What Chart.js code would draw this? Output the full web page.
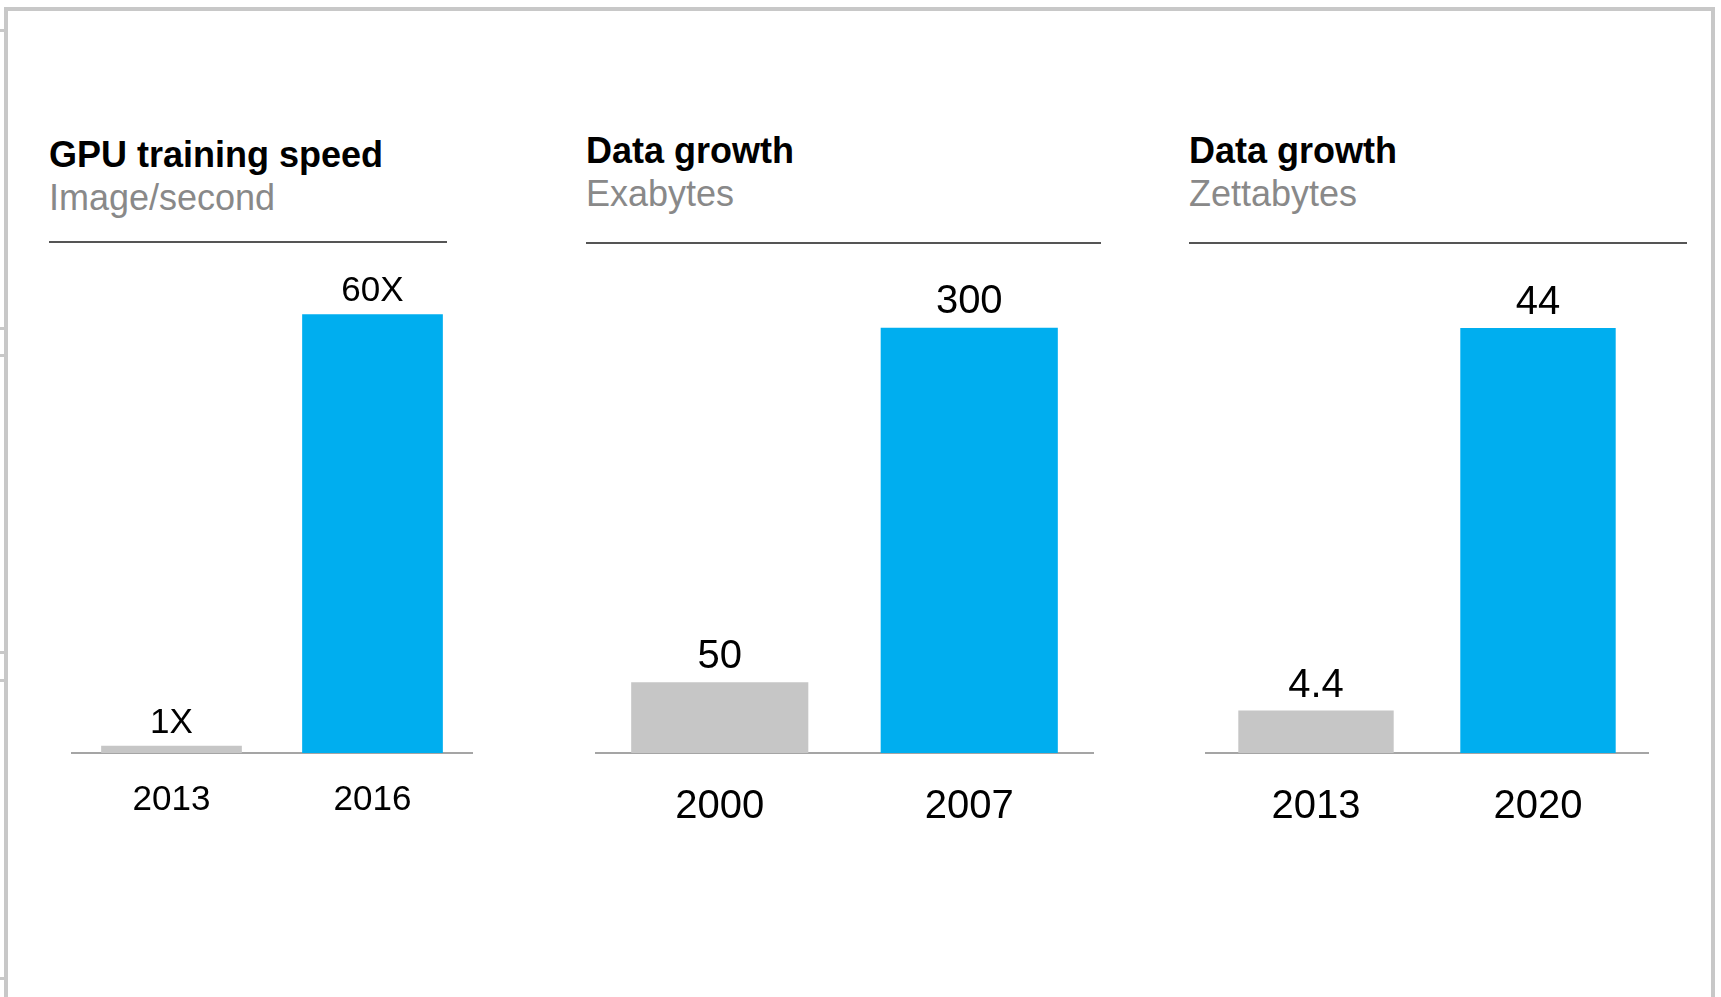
<!DOCTYPE html>
<html>
<head>
<meta charset="utf-8">
<script src="https://cdn.jsdelivr.net/npm/chart.js@4.4.1/dist/chart.umd.min.js"></script>
<style>
  html, body { margin: 0; padding: 0; background: #fff; }
  body { width: 1721px; height: 997px; position: relative; overflow: hidden;
         font-family: "Liberation Sans", Arial, Helvetica, sans-serif; }
  .frame { position: absolute; left: 4px; top: 7px; width: 1703px; height: 1100px;
           border: 4px solid #c8c8c8; border-bottom: none; box-sizing: content-box; }
  .stub { position: absolute; left: 0; width: 5px; height: 3px; background: #c8c8c8; }
  .title { position: absolute; font-size: 36px; line-height: 36px; font-weight: bold; color: #000; white-space: nowrap; }
  .sub { position: absolute; font-size: 36px; line-height: 36px; color: #898989; white-space: nowrap; }
  .rule { position: absolute; height: 2px; background: #555; }
  .box { position: absolute; }
</style>
</head>
<body>
<div class="frame"></div>
<div class="stub" style="top:28.5px"></div>
<div class="stub" style="top:326.5px"></div>
<div class="stub" style="top:354px"></div>
<div class="stub" style="top:651px"></div>
<div class="stub" style="top:679px"></div>
<div class="stub" style="top:977px"></div>

<div class="title" style="left:49px;top:136.5px">GPU training speed</div>
<div class="sub" style="left:49px;top:179.5px">Image/second</div>
<div class="rule" style="left:49px;top:240.5px;width:398px"></div>

<div class="title" style="left:586px;top:132.5px">Data growth</div>
<div class="sub" style="left:586px;top:175.5px">Exabytes</div>
<div class="rule" style="left:586px;top:241.7px;width:515px"></div>

<div class="title" style="left:1189px;top:132.5px">Data growth</div>
<div class="sub" style="left:1189px;top:175.5px">Zettabytes</div>
<div class="rule" style="left:1189px;top:241.7px;width:498px"></div>

<div class="box" style="left:71px;top:241px;width:402px;height:606px"><canvas id="c1"></canvas></div>
<div class="box" style="left:595px;top:257px;width:499px;height:604px"><canvas id="c2"></canvas></div>
<div class="box" style="left:1205px;top:270px;width:444px;height:591px"><canvas id="c3"></canvas></div>

<script>
// ---- data ----
const gpuYears = ['2013', '2016'];
const gpuValues = [1, 60];
const gpuLabels = ['1X', '60X'];

const exaYears = ['2000', '2007'];
const exaValues = [50, 300];
const exaLabels = ['50', '300'];

const zettaYears = ['2013', '2020'];
const zettaValues = [4.4, 44];
const zettaLabels = ['4.4', '44'];

const barColors = ['#c6c6c6', '#00aeef'];
const FONT = '"Liberation Sans", Arial, Helvetica, sans-serif';

const valueLabelPlugin = {
  id: 'valueLabels',
  afterDatasetsDraw(chart, args, opts) {
    const ctx = chart.ctx;
    const meta = chart.getDatasetMeta(0);
    ctx.save();
    ctx.font = opts.size + 'px ' + FONT;
    ctx.fillStyle = '#000';
    ctx.textAlign = 'center';
    ctx.textBaseline = 'middle';
    meta.data.forEach((bar, i) => {
      ctx.fillText(opts.labels[i], bar.x, bar.y - opts.offset);
    });
    ctx.restore();
  }
};

function makeChart(id, cats, vals, labels, yMax, fontSize, tickPad, labelOffset, barPct) {
  return new Chart(document.getElementById(id), {
    type: 'bar',
    data: {
      labels: cats,
      datasets: [{
        data: vals,
        backgroundColor: barColors,
        borderWidth: 0,
        categoryPercentage: 1.0,
        barPercentage: barPct
      }]
    },
    options: {
      responsive: true,
      maintainAspectRatio: false,
      animation: false,
      layout: { padding: 0 },
      plugins: {
        legend: { display: false },
        tooltip: { enabled: false },
        valueLabels: { labels: labels, size: fontSize, offset: labelOffset }
      },
      scales: {
        x: {
          grid: { display: false, drawTicks: false },
          border: { display: true, color: '#a5a5a5', width: 2 },
          ticks: { color: '#000', padding: tickPad, font: { family: FONT, size: fontSize } }
        },
        y: {
          display: false,
          min: 0,
          max: yMax
        }
      }
    },
    plugins: [valueLabelPlugin]
  });
}

makeChart('c1', gpuYears, gpuValues, gpuLabels, 70, 35, 26, 22.5, 0.70);
makeChart('c2', exaYears, exaValues, exaLabels, 350, 40, 30, 25.5, 0.71);
makeChart('c3', zettaYears, zettaValues, zettaLabels, 50, 40, 30, 25, 0.70);
</script>
</body>
</html>
